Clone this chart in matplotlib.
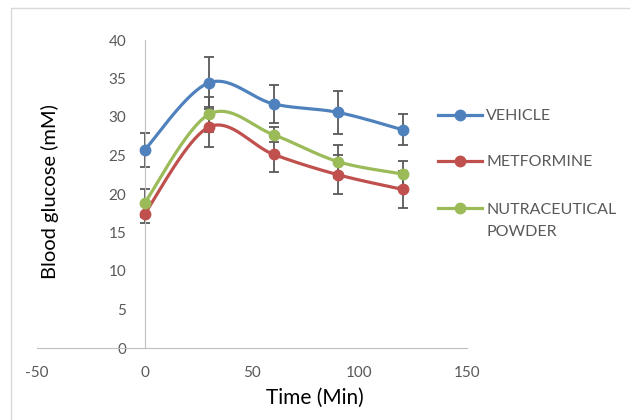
import numpy as np
import matplotlib
matplotlib.use("Agg")
import matplotlib.pyplot as plt
from matplotlib.lines import Line2D
from matplotlib.patches import Rectangle


# =========================
# DATA
# =========================

time_min = [0, 30, 60, 90, 120]

vehicle = [25.7, 34.45, 31.7, 30.6, 28.35]
vehicle_err = [2.2, 3.4, 2.5, 2.75, 2.0]

metformine = [17.4, 28.7, 25.15, 22.5, 20.6]
metformine_err = [1.2, 2.6, 2.25, 2.55, 2.4]

nutraceutical = [18.8, 30.35, 27.7, 24.2, 22.6]
nutraceutical_err = [1.8, 2.25, 1.0, 2.1, 1.7]

series_labels = ["VEHICLE", "METFORMINE", "NUTRACEUTICAL\nPOWDER"]
series_colors = ["#4F81BD", "#C0504D", "#9BBB59"]

x_ticks = [-50, 0, 50, 100, 150]
y_ticks = [0, 5, 10, 15, 20, 25, 30, 35, 40]


# =========================
# HELPERS
# =========================

def smooth_curve(x, y, n=40):
    # Catmull-Rom style bezier, like the spreadsheet "smoothed line"
    x = np.asarray(x, float)
    y = np.asarray(y, float)
    px = np.concatenate([[x[0]], x, [x[-1]]])
    py = np.concatenate([[y[0]], y, [y[-1]]])
    xs, ys = [], []
    t = np.linspace(0, 1, n)
    for i in range(1, len(px) - 2):
        p0 = np.array([px[i], py[i]])
        p3 = np.array([px[i + 1], py[i + 1]])
        c1 = p0 + (np.array([px[i + 1], py[i + 1]]) - np.array([px[i - 1], py[i - 1]])) / 6
        c2 = p3 - (np.array([px[i + 2], py[i + 2]]) - np.array([px[i], py[i]])) / 6
        b = ((1 - t) ** 3)[:, None] * p0 + (3 * (1 - t) ** 2 * t)[:, None] * c1 \
            + (3 * (1 - t) * t ** 2)[:, None] * c2 + (t ** 3)[:, None] * p3
        xs.extend(b[:, 0])
        ys.extend(b[:, 1])
    return xs, ys


# =========================
# PLOT
# =========================

plt.rcParams["font.family"] = ["Lato", "DejaVu Sans"]
plt.rcParams["axes.unicode_minus"] = False

fig = plt.figure(figsize=(6.3, 4.2), dpi=100)
fig.patches.append(Rectangle((11 / 630, -0.1), 1.2, 1 - 8 / 420 + 0.1,
                             transform=fig.transFigure, fill=False,
                             edgecolor="#D9D9D9", linewidth=1))

ax = fig.add_axes([37 / 630, 72 / 420, 430 / 630, 308 / 420])

all_series = [
    (vehicle, vehicle_err),
    (metformine, metformine_err),
    (nutraceutical, nutraceutical_err),
]

for (values, errs), color in zip(all_series, series_colors):
    ax.errorbar(time_min, values, yerr=errs, fmt="none", ecolor="#595959",
                elinewidth=1.3, capsize=3.5, capthick=1.3, zorder=2)
    sx, sy = smooth_curve(time_min, values)
    ax.plot(sx, sy, color=color, linewidth=2.3, zorder=3, solid_capstyle="round")
    ax.plot(time_min, values, "o", color=color, markersize=7.5, zorder=4)

ax.set_xlim(-50, 150)
ax.set_ylim(0, 40)
ax.set_xticks(x_ticks)
ax.set_yticks(y_ticks)

for side in ["top", "right"]:
    ax.spines[side].set_visible(False)
ax.spines["left"].set_position(("data", 0))
ax.spines["left"].set_color("#BFBFBF")
ax.spines["bottom"].set_color("#BFBFBF")
ax.tick_params(length=0, labelsize=11, labelcolor="#595959", pad=13)

ax.set_xlabel("Time (Min)", fontsize=15)
ax.set_ylabel("Blood glucose (mM)", fontsize=14.5)
ax.xaxis.set_label_coords((315 - 37) / 430, -(398 - 348) / 308)
ax.yaxis.set_label_coords((50 - 37) / 430, (348 - 192) / 308)
ax.yaxis.label.set_verticalalignment("center")
ax.xaxis.label.set_verticalalignment("center")

# legend drawn by hand to keep the first-line alignment
legend_y = [115, 161, 208]
line_step = 22
for label, color, ly in zip(series_labels, series_colors, legend_y):
    yf = 1 - ly / 420
    fig.add_artist(Line2D([438 / 630, 482 / 630], [yf, yf], color=color,
                          linewidth=2.3, transform=fig.transFigure))
    fig.add_artist(Line2D([460 / 630], [yf], marker="o", color=color,
                          markersize=7.5, transform=fig.transFigure))
    for k, part in enumerate(label.split("\n")):
        fig.text(486 / 630, 1 - (ly + k * line_step) / 420, part,
                 fontsize=11.5, color="#595959", va="center_baseline", ha="left")

fig.savefig("out.png", dpi=100)
